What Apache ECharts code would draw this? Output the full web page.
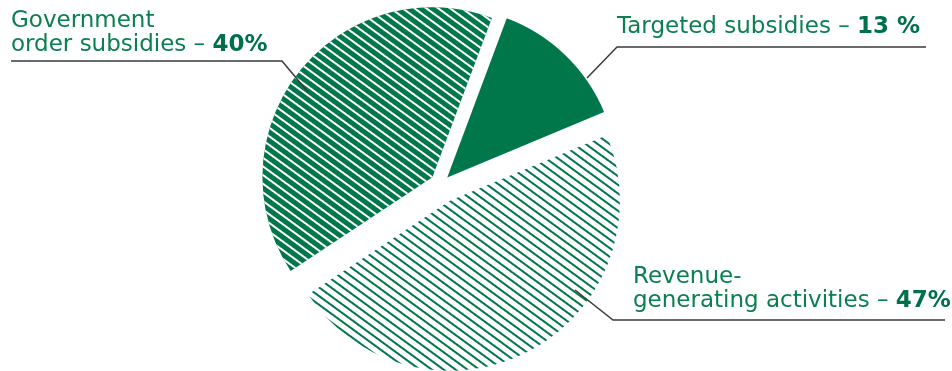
<!DOCTYPE html>
<html>
<head>
<meta charset="utf-8">
<script src="https://cdn.jsdelivr.net/npm/echarts@6/dist/echarts.min.js"></script>
<style>
  html, body { margin: 0; padding: 0; background: #fff; }
  #chart { width: 952px; height: 371px; }
</style>
</head>
<body>
<div id="chart"></div>
<script>
// ---- data ----
const categories = ['Targeted subsidies', 'Revenue-\ngenerating activities', 'Government\norder subsidies'];
const shares = [13, 47, 40];
const shareLabels = ['13 %', '47%', '40%'];

// ---- styling / layout ----
const GREEN = '#00774a';
const TEXT_GREEN = '#0a7f4f';
const CENTER = [441, 184];
const RADIUS = 170;
const offsets = [9, 19, 11];
const HATCH_ROT = 0.63;
const sliceStyles = [
  { color: GREEN, borderWidth: 0, decal: { symbol: 'none' } },
  { color: '#ffffff', borderWidth: 0,
    decal: { symbol: 'rect', color: GREEN, dashArrayX: [1, 0], dashArrayY: [2, 5], rotation: HATCH_ROT } },
  { color: GREEN, borderWidth: 0,
    decal: { symbol: 'rect', color: '#ffffff', dashArrayX: [1, 0], dashArrayY: [2, 5], rotation: HATCH_ROT } }
];
// label text box positions and leader line points
const labelPos = [
  { x: 617, y: 15, line: [[587, 78], [617, 47], [926, 47]] },
  { x: 633, y: 265, line: [[575, 290], [613, 320], [945, 320]] },
  { x: 11, y: 9, line: [[308, 92], [282, 61], [11, 61]] }
];

function labelText(i) {
  const lines = categories[i].split('\n');
  return lines.map((l, k) => k === lines.length - 1
    ? '{n|' + l + ' – }{b|' + shareLabels[i] + '}'
    : '{n|' + l + '}').join('\n');
}

const series = categories.map((_, i) => ({
  type: 'pie',
  center: CENTER,
  radius: RADIUS,
  startAngle: 69.5,
  clockwise: true,
  selectedMode: 'multiple',
  selectedOffset: offsets[i],
  silent: true,
  emphasis: { disabled: true },
  animation: false,
  label: { show: false },
  labelLine: { show: false },
  data: categories.map((name, j) => ({
    name: name,
    value: shares[j],
    selected: j === i,
    itemStyle: j === i ? sliceStyles[j] : { color: 'rgba(0,0,0,0)', borderWidth: 0, decal: { symbol: 'none' } },
    select: { itemStyle: j === i ? sliceStyles[j] : { color: 'rgba(0,0,0,0)' } }
  }))
}));

const rich = {
  n: { fontFamily: 'DejaVu Sans', fontSize: 23, fill: TEXT_GREEN, lineHeight: 24 },
  b: { fontFamily: 'DejaVu Sans', fontSize: 23, fontWeight: 'bold', fill: '#00704a', lineHeight: 24 }
};
const graphics = [];
categories.forEach((_, i) => {
  graphics.push({
    type: 'polyline', silent: true, z: 10,
    shape: { points: labelPos[i].line },
    style: { stroke: '#3a3a3a', lineWidth: 1.5, fill: null }
  });
  graphics.push({
    type: 'text', silent: true, z: 10,
    x: labelPos[i].x, y: labelPos[i].y,
    style: { text: labelText(i), rich: rich, align: 'left', verticalAlign: 'top',
             font: '23px "DejaVu Sans"', fill: TEXT_GREEN }
  });
});

const chart = echarts.init(document.getElementById('chart'), null, { renderer: 'canvas' });
chart.setOption({
  animation: false,
  backgroundColor: '#ffffff',
  series: series,
  graphic: { elements: graphics }
});
</script>
</body>
</html>
